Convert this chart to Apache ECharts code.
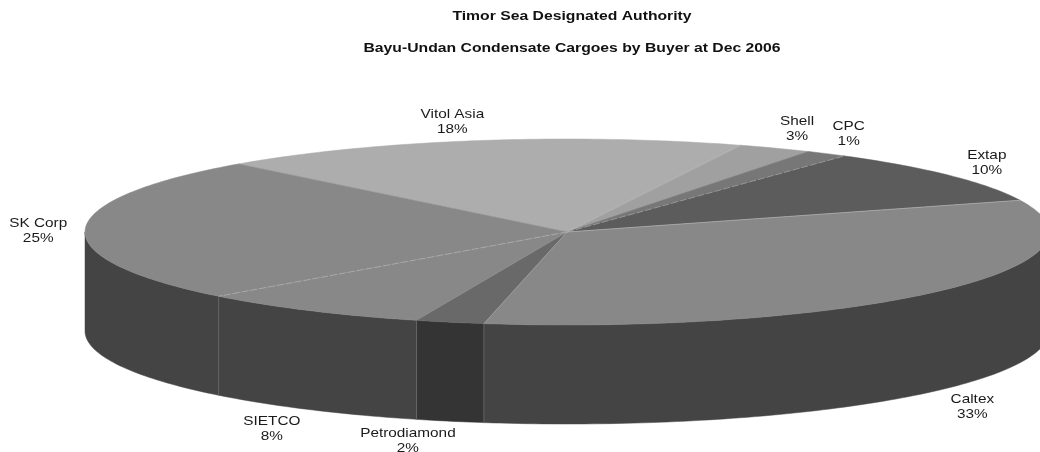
<!DOCTYPE html>
<html>
<head>
<meta charset="utf-8">
<style>html,body{margin:0;padding:0;background:#fff}#c{width:1040px;height:452px}</style>
<script src="https://cdn.jsdelivr.net/npm/echarts@6/dist/echarts.min.js"></script>
</head>
<body>
<div id="c"></div>
<script>
const titleLines = ['Timor Sea Designated Authority', 'Bayu-Undan Condensate Cargoes by Buyer at Dec 2006'];
const categories = ['Vitol Asia', 'Shell', 'CPC', 'Extap', 'Caltex', 'Petrodiamond', 'SIETCO', 'SK Corp'];
const shares = [17.8, 2.5, 1.4, 9.7, 33.3, 2.3, 7.8, 25.2];

const topColors = ['#adadad', '#a0a0a0', '#777777', '#5c5c5c', '#888888', '#696969', '#888888', '#888888'];
const sideColors = ['#444444', '#444444', '#444444', '#444444', '#444444', '#343434', '#444444', '#444444'];
const labelNudge = [[-23, -19], [22, -19], [22, -20], [37, -13], [36, 16.5], [-42, 20], [-38, 19], [-47, 2]];
const seamOpacity = [0.8, 0, 0.8, 0.8, 0.8, 0, 0.8, 0];
const seamDash = [null, null, [7, 2], null, null, null, [7, 2], null];

const pie = { cx: 567, cy: 232, rx: 482, ry: 93, depth: 99, startDeg: 227 };
const total = shares.reduce((a, b) => a + b, 0);
const rad = d => d * Math.PI / 180;
const rim = (deg, drop) => [pie.cx + pie.rx * Math.cos(rad(deg)), pie.cy + pie.ry * Math.sin(rad(deg)) + (drop || 0)];

function sampleArc(a, b, drop) {
  const pts = [];
  const n = Math.max(2, Math.ceil(Math.abs(b - a)));
  for (let k = 0; k <= n; k++) pts.push(rim(a + (b - a) * k / n, drop));
  return pts;
}
function frontRange(a, b) {
  // part of [a,b] with the rim facing the viewer (sin > 0): 0..180 or 360..540
  for (const off of [0, 360]) {
    const lo = Math.max(a, off), hi = Math.min(b, off + 180);
    if (hi > lo) return [lo, hi];
  }
  return null;
}

function renderSlice(params, api) {
  const i = api.value(0);
  let before = 0;
  for (let k = 0; k < i; k++) before += shares[k];
  const a = pie.startDeg + before / total * 360;
  const b = a + shares[i] / total * 360;
  const mid = (a + b) / 2;
  const children = [];

  const fr = frontRange(a, b);
  if (fr) {
    const pts = sampleArc(fr[0], fr[1], 0).concat(sampleArc(fr[1], fr[0], pie.depth));
    children.push({ type: 'polygon', shape: { points: pts },
      style: { fill: sideColors[i], stroke: sideColors[i], lineWidth: 0.5 } });
    if (fr[1] < 180 || (fr[1] > 360 && fr[1] < 540)) {
      const p = rim(fr[1], 0), q = rim(fr[1], pie.depth);
      children.push({ type: 'line', z2: 3, shape: { x1: p[0], y1: p[1], x2: q[0], y2: q[1] },
        style: { stroke: '#666666', lineWidth: 1 } });
    }
  }

  const topPts = [[pie.cx, pie.cy]].concat(sampleArc(a, b, 0));
  children.push({ type: 'polygon', z2: 2, shape: { points: topPts },
    style: { fill: topColors[i], stroke: topColors[i], lineWidth: 0.5 } });
  if (seamOpacity[i] > 0) {
    const e = rim(b, 0);
    children.push({ type: 'line', z2: 4, shape: { x1: pie.cx, y1: pie.cy, x2: e[0], y2: e[1] },
      style: { stroke: '#c4c4c4', lineWidth: 0.6, opacity: seamOpacity[i], lineDash: seamDash[i] } });
  }

  const anchor = rim(mid, Math.sin(rad(mid)) > 0 ? pie.depth : 0);
  children.push({ type: 'text', z2: 5, scaleX: 1.18,
    x: anchor[0] + labelNudge[i][0], y: anchor[1] + labelNudge[i][1],
    style: { text: categories[i] + '\n' + Math.round(shares[i]) + '%',
      fontFamily: 'Liberation Sans', fontSize: 13, lineHeight: 15,
      fill: '#1a1a1a', align: 'center', verticalAlign: 'middle' } });
  return { type: 'group', children };
}

const chart = echarts.init(document.getElementById('c'), null, { renderer: 'canvas' });
chart.setOption({
  animation: false,
  backgroundColor: '#ffffff',
  graphic: titleLines.map((t, i) => ({
    type: 'text', x: 572, y: i === 0 ? 16.5 : 48, scaleX: 1.21, silent: true,
    style: { text: t, fontFamily: 'Liberation Sans', fontSize: 13, fontWeight: 'bold',
      fill: '#111111', align: 'center', verticalAlign: 'middle' }
  })),
  series: [{
    type: 'custom',
    coordinateSystem: 'none',
    silent: true,
    renderItem: renderSlice,
    data: categories.map((c, i) => [i])
  }]
});
</script>
</body>
</html>
